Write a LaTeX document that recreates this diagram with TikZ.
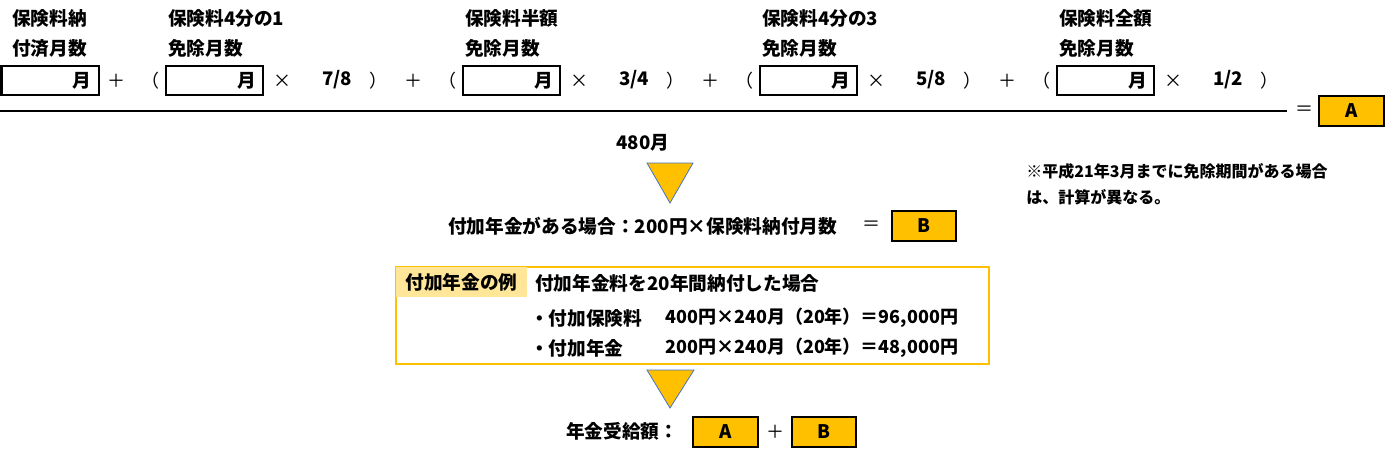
\documentclass[tikz,border=0pt]{standalone}
\usepackage{fontspec}
\setmainfont{Noto Sans CJK JP}
\usetikzlibrary{positioning}
\definecolor{ansorange}{RGB}{255,192,0}
\definecolor{headorange}{RGB}{255,230,153}
\definecolor{triedge}{RGB}{68,114,196}

\begin{document}
\begin{tikzpicture}[x=0.75pt,y=-0.75pt,
    txt/.style={inner sep=0pt, text=black, font=\fontsize{14pt}{16pt}\selectfont\bfseries},
    row/.style={txt, font=\fontsize{13.5pt}{16pt}\selectfont\bfseries},
    note/.style={txt, font=\fontsize{12pt}{14pt}\selectfont\bfseries},
    op/.style={inner sep=0pt, text=black, font=\fontsize{13.5pt}{16pt}\selectfont},
    monthbox/.style={draw, line width=1.5pt, minimum width=72.75pt, minimum height=21.75pt, text width=62pt, align=right, inner xsep=4pt, inner ysep=0pt, font=\fontsize{14pt}{16pt}\selectfont\bfseries},
    ans/.style={draw, line width=1.5pt, fill=ansorange, minimum width=48.5pt, minimum height=22.5pt, inner sep=0pt, font=\fontsize{14pt}{16pt}\selectfont\bfseries},
    tri/.style={fill=ansorange, draw=triedge, line width=0.6pt},
    ]
  \useasboundingbox (0,0) rectangle (1387,450);

  \node [txt, anchor=west] (lbl1a) at (12,18) {保険料納};
  \node [txt, anchor=west] (lbl1b) at (12,48) {付済月数};
  \node [monthbox] (box1) at (50,80.5) {月};

  \foreach \k/\head/\fr [count=\n from 2] in {0/保険料4分の1/7\slash8, 1/保険料半額/3\slash4, 2/保険料4分の3/5\slash8, 3/保険料全額/1\slash2}{
    \node [txt, anchor=west] (lbl\n a) at (168+297*\k,18) {\head};
    \node [txt, anchor=west] (lbl\n b) at (168+297*\k,48) {免除月数};
    \node [monthbox] (box\n) at (214.5+297*\k,80.5) {月};
    \node [op] (plus\n) at (116+297*\k,81) {＋};
    \node [op] (open\n) at (150+297*\k,81) {（};
    \node [op] (times\n) at (282.5+297*\k,81) {×};
    \node [txt] (frac\n) at (337+297*\k,80) {\fr};
    \node [op] (close\n) at (378+297*\k,81) {）};
  }

  \coordinate (barL) at (0,111);
  \coordinate (barR) at (1287,111);
  \draw [line width=1.5pt] (barL) -- (barR);
  \node [op] (eqA) at (1304,111) {＝};
  \node [ans] (ansA) at (1351.5,111) {A};

  \node [txt] (months) at (643,143) {480月};
  \filldraw [tri] (647,163) -- (693,163) -- (670,203) -- cycle;

  \node [note, anchor=west] (note1) at (1026,171) {※平成21年3月までに免除期間がある場合};
  \node [note, anchor=west] (note2) at (1026,197) {は、計算が異なる。};

  \node [txt, anchor=west] (addform) at (448,226) {付加年金がある場合：200円×保険料納付月数};
  \node [op] (eqB) at (871,226) {＝};
  \node [ans] (ansB) at (924,226) {B};

  \node [draw=ansorange, line width=1.5pt, minimum width=444.75pt, minimum height=72.75pt, inner sep=0pt] (exbox) at (692.5,315.5) {};
  \node [txt, fill=headorange, anchor=north west, minimum width=98pt, minimum height=22.5pt] (exhead) at ([shift={(0.75pt,-0.75pt)}]exbox.north west) {付加年金の例};
  \node [txt, anchor=west] (ex1) at (535,283) {付加年金料を20年間納付した場合};
  \node [txt, anchor=west] (ex2a) at (530,318) {・付加保険料};
  \node [row, anchor=west] (ex2b) at (665,318) {400円×240月（20年）＝96,000円};
  \node [txt, anchor=west] (ex3a) at (530,348) {・付加年金};
  \node [row, anchor=west] (ex3b) at (665,348) {200円×240月（20年）＝48,000円};

  \filldraw [tri] (647,370) -- (694,370) -- (670,408) -- cycle;

  \node [txt, anchor=west] (total) at (566,431) {年金受給額：};
  \node [ans] (sumA) at (725.5,431.5) {A};
  \node [op] (plusAB) at (775,431.5) {＋};
  \node [ans] (sumB) at (824,431.5) {B};
\end{tikzpicture}
\end{document}
